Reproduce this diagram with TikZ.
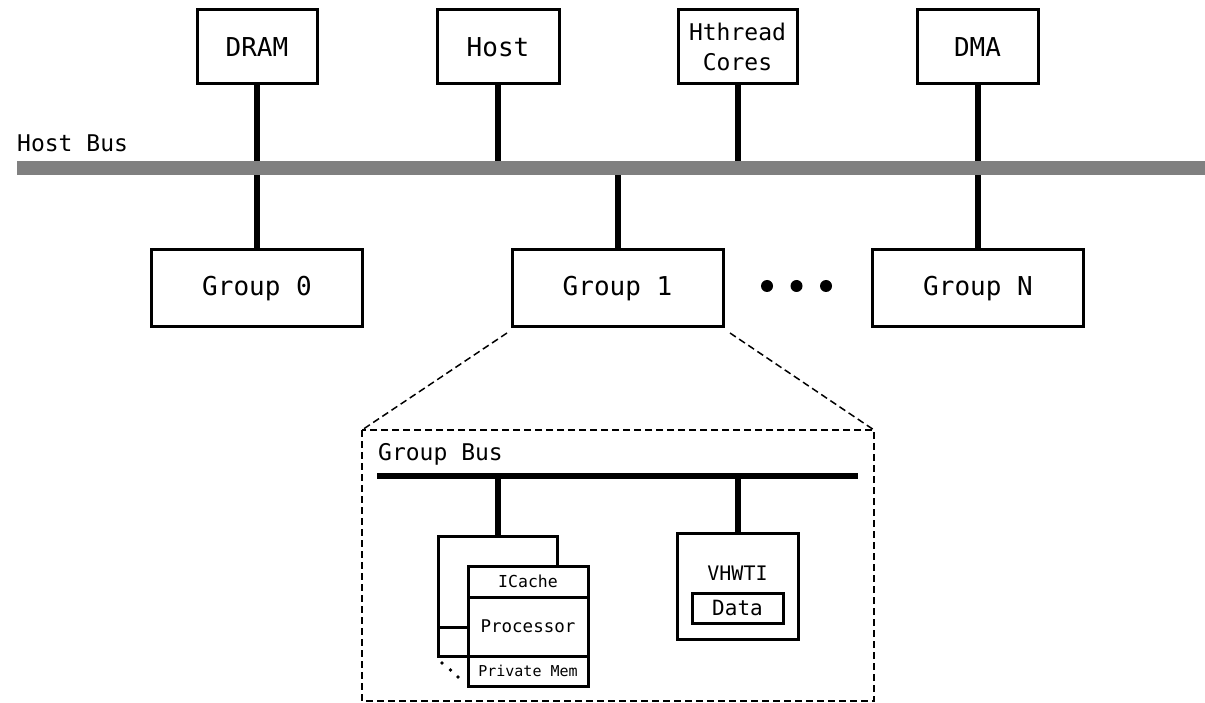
\documentclass[tikz,border=0pt]{standalone}
\usepackage{fontspec}
\setmonofont{DejaVu Sans Mono}
\begin{document}
\begin{tikzpicture}[x=1pt,y=-1pt,
  box/.style={draw,line width=3pt,fill=white,inner sep=0pt,font=\ttfamily\fontsize{26}{30}\selectfont},
  topbox/.style={box,minimum width=120pt,minimum height=74pt},
  grpbox/.style={box,minimum width=211pt,minimum height=77pt},
  conn/.style={line width=6pt},
  hbus/.style={line width=14pt,draw=black!50},
  lbl/.style={inner sep=0pt,anchor=base west,font=\ttfamily\fontsize{23}{28}\selectfont},
  zoomline/.style={dashed,line width=1.5pt,dash pattern=on 7pt off 4pt},
  dotc/.style={fill=black,draw=none}]
\useasboundingbox (0,0) rectangle (1205,703);
% top nodes
\node[topbox] (dram) at (257,47) {DRAM};
\node[topbox,minimum width=122pt] (host) at (498,47) {Host};
\node[topbox,minimum width=119pt,font=\ttfamily\fontsize{23}{30}\selectfont,align=center] (hth) at (737.5,47) {Hthread\\Cores};
\node[topbox,minimum width=121pt] (dma) at (977.5,47) {DMA};
% groups
\node[grpbox] (g0) at (257,288.5) {Group 0};
\node[grpbox] (g1) at (617.5,288.5) {Group 1};
\node[grpbox] (gn) at (978,288.5) {Group N};
% bus
\coordinate (busL) at (17,168);
\coordinate (busR) at (1205,168);
\foreach \n in {dram,host,hth,dma}{\draw[conn] (\n.south) -- (\n.south |- busL);}
\foreach \n in {g0,g1,gn}{\draw[conn] (\n.north) -- (\n.north |- busL);}
\draw[hbus] (busL) -- (busR);
\node[lbl] (hblbl) at (17,152) {Host Bus};
% ellipsis
\fill[dotc] (767,286) circle (6pt) (796.5,286) circle (6pt) (826,286) circle (6pt);
% zoom box
\coordinate (zTL) at (362,430);
\coordinate (zBR) at (874,701);
\draw[zoomline] (zTL) rectangle (zBR);
\coordinate (z1) at (507,333);
\coordinate (z2) at (730,333);
\draw[zoomline] (z1) -- (zTL);
\draw[zoomline] (z2) -- (zBR |- zTL);
% group bus
\node[lbl] (gblbl) at (378,460) {Group Bus};
\coordinate (gbL) at (377,476);
\coordinate (gbR) at (858,476);
\draw[line width=6pt] (gbL) -- (gbR);
% processor stack
\node[draw,line width=3pt,minimum width=119pt,minimum height=120pt,inner sep=0pt] (back) at (497.5,596) {};
\draw[conn] (back.north) -- (back.north |- gbL);
\coordinate (midL) at (438,627);
\coordinate (midR) at (468,627);
\draw[line width=3pt] (midL) -- (midR);
\node[draw,line width=3pt,fill=white,minimum width=120pt,minimum height=120pt,inner sep=0pt] (front) at (528,626) {};
\coordinate (icb) at (468,597);
\coordinate (pmt) at (468,656);
\draw[line width=3pt] (icb) -- (icb -| front.east);
\draw[line width=3pt] (pmt) -- (pmt -| front.east);
\node[font=\ttfamily\fontsize{16.5}{20}\selectfont,inner sep=0pt] (ic) at (528,581.5) {ICache};
\node[font=\ttfamily\fontsize{17.5}{20}\selectfont,inner sep=0pt] (proc) at (528,626.5) {Processor};
\node[font=\ttfamily\fontsize{15}{18}\selectfont,inner sep=0pt] (pm) at (528,671) {Private Mem};
\fill[dotc] (442,663) circle (1.8pt) (450.5,670) circle (1.8pt) (458,677) circle (1.8pt);
% VHWTI
\node[draw,line width=3pt,minimum width=121pt,minimum height=106pt,inner sep=0pt] (vh) at (737.5,586) {};
\draw[conn] (vh.north) -- (vh.north |- gbL);
\node[font=\ttfamily\fontsize{20}{24}\selectfont,inner sep=0pt] (vhl) at (737.5,573) {VHWTI};
\node[draw,line width=3pt,minimum width=91pt,minimum height=30pt,inner sep=0pt,font=\ttfamily\fontsize{21}{24}\selectfont] (data) at (737.5,608) {Data};
\end{tikzpicture}
\end{document}
